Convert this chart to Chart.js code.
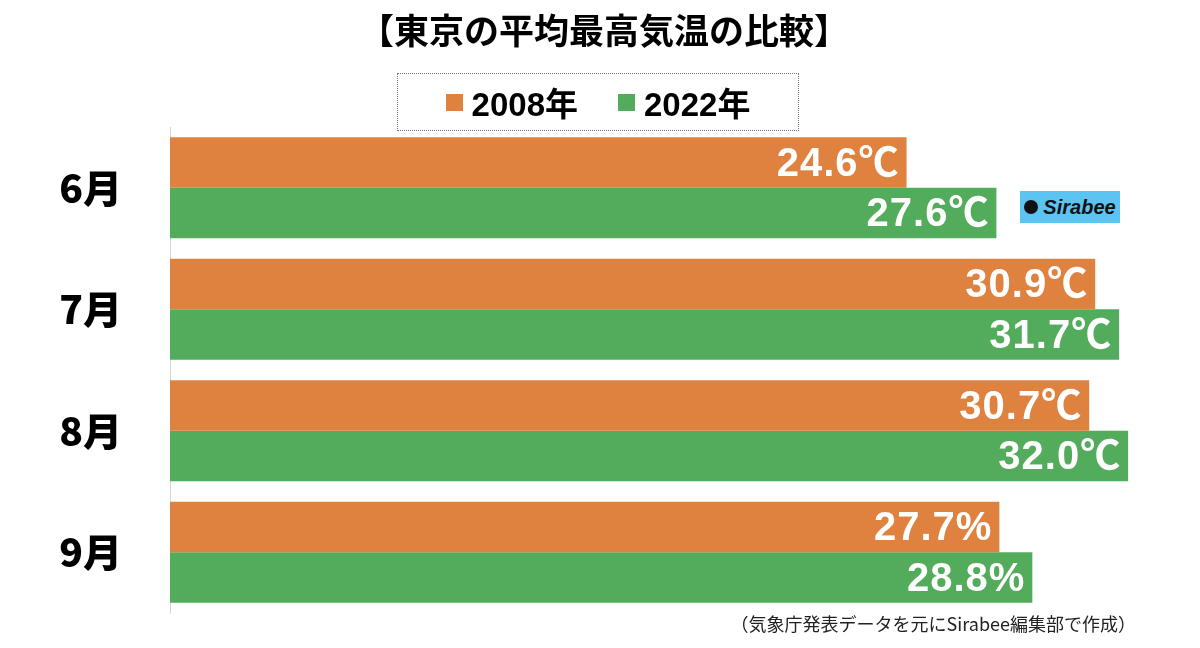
<!DOCTYPE html>
<html lang="ja">
<head>
<meta charset="utf-8">
<title>東京の平均最高気温の比較</title>
<script src="https://cdn.jsdelivr.net/npm/chart.js@4.4.1/dist/chart.umd.min.js"></script>
<style>
    html, body { margin: 0; padding: 0; background: #fff; }
    #wrap { position: relative; width: 1200px; height: 648px; overflow: hidden; }
    #chart { position: absolute; left: 0; top: 0; }
    #legend {
        position: absolute; left: 397px; top: 73px; width: 400px; height: 56px;
        border: 1px dotted #777;
        display: flex; align-items: center; justify-content: center; gap: 40px;
        font: bold 33px "Liberation Sans", "Noto Sans CJK JP", sans-serif; color: #000;
    }
    #legend .item { display: flex; align-items: center; }
    #legend .box { width: 17px; height: 17px; margin-right: 9px; }
    #logo {
        position: absolute; left: 1020px; top: 191px; width: 100px; height: 32px;
        background: #5bc4f2; display: flex; align-items: center; justify-content: center;
        font: italic bold 20px "Liberation Sans", sans-serif; color: #111;
    }
    #logo .icon { width: 14px; height: 14px; border-radius: 50%; background: #111; margin-right: 5px; }
    #note {
        position: absolute; right: 64px; top: 610px;
        font: 18px "Noto Sans CJK JP", sans-serif; color: #222; white-space: nowrap;
    }
</style>
</head>
<body>
<div id="wrap">
    <canvas id="chart" width="1200" height="648"></canvas>
    <div id="legend"></div>
    <div id="logo"><span class="icon"></span>Sirabee</div>
    <div id="note">（気象庁発表データを元にSirabee編集部で作成）</div>
</div>
<script>
// data
const months = ['6月', '7月', '8月', '9月'];
const seriesNames = ['2008年', '2022年'];
const values2008 = [24.6, 30.9, 30.7, 27.7];
const values2022 = [27.6, 31.7, 32.0, 28.8];
// the source image labels September with "%"
const units = ['℃', '℃', '℃', '%'];
const seriesColors = ['#e0823f', '#53ac5c'];

// draws the white value labels inside the end of each bar
const barLabels = {
    id: 'barLabels',
    afterDatasetsDraw(chart) {
        const ctx = chart.ctx;
        ctx.save();
        ctx.font = 'bold 40px "Liberation Sans", "Noto Sans CJK JP", sans-serif';
        ctx.letterSpacing = '1px';
        ctx.fillStyle = '#fff';
        ctx.textAlign = 'right';
        ctx.textBaseline = 'middle';
        chart.data.datasets.forEach((ds, i) => {
            const meta = chart.getDatasetMeta(i);
            meta.data.forEach((bar, j) => {
                const text = ds.data[j].toFixed(1) + units[j];
                ctx.fillText(text, bar.x - 7, bar.y + 2);
            });
        });
        ctx.restore();
    }
};

document.addEventListener('DOMContentLoaded', function() {
    const ctx = document.getElementById('chart').getContext('2d');

    const chart = new Chart(ctx, {
        type: 'bar',
        data: {
            labels: months,
            datasets: [
                { label: seriesNames[0], data: values2008, backgroundColor: seriesColors[0] },
                { label: seriesNames[1], data: values2022, backgroundColor: seriesColors[1] }
            ]
        },
        options: {
            indexAxis: 'y',
            responsive: false,
            animation: false,
            layout: { padding: { left: 8, right: 0, top: 0, bottom: 35 } },
            datasets: {
                bar: { categoryPercentage: 0.831, barPercentage: 1.0, borderWidth: 0 }
            },
            plugins: {
                legend: { display: false },
                tooltip: { enabled: false },
                title: {
                    display: true,
                    text: '【東京の平均最高気温の比較】',
                    color: '#000',
                    font: { family: '"Noto Sans CJK JP", sans-serif', size: 35, weight: 'bold' },
                    padding: { top: 10, bottom: 75 }
                }
            },
            scales: {
                x: { display: false, min: 0, max: 34.4 },
                y: {
                    grid: { display: false },
                    border: { display: true, color: '#d6d6d6', width: 1 },
                    ticks: {
                        color: '#000',
                        padding: 40,
                        font: { family: '"Noto Sans CJK JP", sans-serif', size: 39, weight: '900' }
                    },
                    afterFit(scale) {
                        // fixed label column; tick padding should not eat vertical space
                        scale.width = 162;
                        scale.paddingTop = 0;
                        scale.paddingBottom = 0;
                    }
                }
            }
        },
        plugins: [barLabels]
    });

    // legend built from the chart's datasets
    const legend = document.getElementById('legend');
    chart.data.datasets.forEach(ds => {
        const item = document.createElement('div');
        item.className = 'item';
        item.innerHTML = '<span class="box" style="background:' + ds.backgroundColor + '"></span>' + ds.label;
        legend.appendChild(item);
    });
});
</script>
</body>
</html>
